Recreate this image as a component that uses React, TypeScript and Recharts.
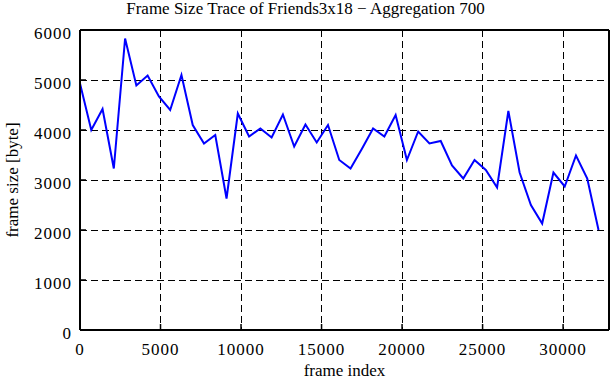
import React from 'react';
import { LineChart, Line, XAxis, YAxis, CartesianGrid } from 'recharts';

const frameIndex = [
  0, 700, 1400, 2100, 2800, 3500, 4200, 4900, 5600, 6300,
  7000, 7700, 8400, 9100, 9800, 10500, 11200, 11900, 12600, 13300,
  14000, 14700, 15400, 16100, 16800, 17500, 18200, 18900, 19600, 20300,
  21000, 21700, 22400, 23100, 23800, 24500, 25200, 25900, 26600, 27300,
  28000, 28700, 29400, 30100, 30800, 31500, 32200,
];

const frameSize = [
  4930, 4000, 4420, 3230, 5830, 4890, 5090, 4670, 4400, 5100,
  4100, 3730, 3900, 2630, 4330, 3870, 4030, 3850, 4310, 3670,
  4110, 3750, 4100, 3400, 3230, 3620, 4030, 3870, 4300, 3400,
  3970, 3730, 3780, 3290, 3030, 3400, 3200, 2850, 4380, 3150,
  2500, 2130, 3150, 2870, 3490, 3030, 2000,
];

const xTicks = [0, 5000, 10000, 15000, 20000, 25000, 30000];
const yTicks = [0, 1000, 2000, 3000, 4000, 5000, 6000];
const xDomain = [0, 32850];
const yDomain = [0, 6000];

const title = 'Frame Size Trace of Friends3x18 \u2212 Aggregation 700';
const xLabel = 'frame index';
const yLabel = 'frame size [byte]';

const data = frameIndex.map((x, i) => ({ x, y: frameSize[i] }));

const FONT = '"Liberation Serif", "Times New Roman", serif';
const tickStyle = { fill: '#000', fontSize: 17, fontFamily: FONT, letterSpacing: 1 };

export default function App() {
  return (
    <div style={{ position: 'absolute', left: 0, top: 0, width: 611, height: 380, background: '#fff', fontFamily: FONT }}>
      <div
        style={{
          position: 'absolute',
          left: 0,
          top: 0,
          width: 611,
          textAlign: 'center',
          fontSize: 17,
          lineHeight: '18px',
          color: '#000',
          fontFamily: FONT,
          zIndex: 2,
        }}
      >
        {title}
      </div>
      <LineChart
        width={611}
        height={380}
        data={data}
        margin={{ top: 0, right: 0, bottom: 0, left: 0 }}
      >
        <CartesianGrid
          stroke="#000"
          strokeDasharray="7 4"
          strokeWidth={1}
          shapeRendering="crispEdges"
          xAxisId="b"
          yAxisId="l"
        />
        <XAxis
          xAxisId="b"
          dataKey="x"
          type="number"
          domain={xDomain}
          ticks={xTicks}
          allowDataOverflow
          height={50}
          tickSize={-6}
          tickMargin={19}
          tick={tickStyle}
          tickLine={{ stroke: '#000', strokeWidth: 1.5 }}
          axisLine={{ stroke: '#000', strokeWidth: 2 }}
          label={{ value: xLabel, position: 'insideBottom', offset: 4, style: { fill: '#000', fontSize: 17, fontFamily: FONT } }}
        />
        <XAxis
          xAxisId="t"
          dataKey="x"
          type="number"
          orientation="top"
          domain={xDomain}
          ticks={xTicks}
          allowDataOverflow
          height={30}
          tickSize={-6}
          tick={false}
          tickLine={{ stroke: '#000', strokeWidth: 1.5 }}
          axisLine={{ stroke: '#000', strokeWidth: 2 }}
        />
        <YAxis
          yAxisId="l"
          type="number"
          domain={yDomain}
          ticks={yTicks}
          allowDataOverflow
          width={80}
          tickSize={-6}
          tickMargin={14}
          tick={{ ...tickStyle, dy: 3 }}
          tickLine={{ stroke: '#000', strokeWidth: 1.5 }}
          axisLine={{ stroke: '#000', strokeWidth: 2 }}
          label={{ value: yLabel, angle: -90, position: 'insideLeft', offset: 12, style: { fill: '#000', fontSize: 17, fontFamily: FONT, textAnchor: 'middle' } }}
        />
        <YAxis
          yAxisId="r"
          type="number"
          orientation="right"
          domain={yDomain}
          ticks={yTicks}
          allowDataOverflow
          width={2}
          tickSize={-6}
          tick={false}
          tickLine={{ stroke: '#000', strokeWidth: 1.5 }}
          axisLine={{ stroke: '#000', strokeWidth: 2 }}
        />
        <Line
          xAxisId="b"
          yAxisId="l"
          dataKey="y"
          type="linear"
          stroke="#0000ff"
          strokeWidth={2}
          dot={false}
          activeDot={false}
          isAnimationActive={false}
        />
      </LineChart>
    </div>
  );
}
